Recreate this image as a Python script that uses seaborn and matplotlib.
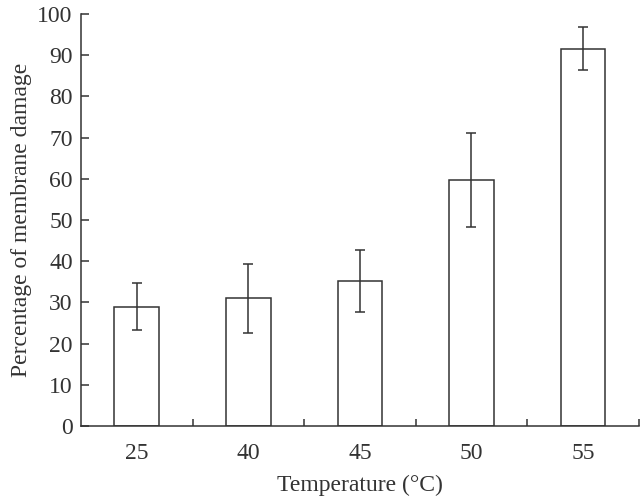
import numpy as np
import pandas as pd
import matplotlib
matplotlib.use("Agg")
import matplotlib.pyplot as plt
import seaborn as sns

# data
temperatures = ["25", "40", "45", "50", "55"]
damage_mean = [29.0, 31.0, 35.1, 59.7, 91.6]
damage_err = [5.8, 8.4, 7.5, 11.4, 5.2]

sns.set_style("ticks")
plt.rcParams["font.family"] = ["Liberation Serif", "DejaVu Serif"]

ink = "#333333"
fs = 17

df = pd.DataFrame({"Temperature": temperatures, "Damage": damage_mean})

fig = plt.figure(figsize=(6.4, 4.98), dpi=100)
ax = fig.add_axes([0.1266, 0.1446, 0.8714, 0.8273])

sns.barplot(data=df, x="Temperature", y="Damage", order=temperatures,
            color="white", edgecolor=ink, linewidth=1.1, width=0.4,
            errorbar=None, ax=ax)

# error bars on the categorical positions seaborn used
xpos = np.arange(len(temperatures))
ax.errorbar(xpos, damage_mean, yerr=damage_err, fmt="none",
            ecolor=ink, elinewidth=1.1, capsize=3.4, capthick=1.1)

ax.set_xlim(-0.5, len(temperatures) - 0.5)
ax.set_ylim(0, 100)
ax.set_yticks(range(0, 101, 10))

# labels at the centres, small inward ticks at the category boundaries
ax.set_xticks(xpos)
ax.set_xticklabels(temperatures)
ax.tick_params(axis="x", which="major", length=0, pad=12, labelsize=fs, colors=ink)
ax.set_xticks(np.arange(len(temperatures)) + 0.5, minor=True)
ax.tick_params(axis="x", which="minor", direction="in", length=5, width=1.1, color=ink)
ax.tick_params(axis="y", direction="in", length=6, width=1.1, pad=6,
               labelsize=fs, colors=ink)

ax.set_xlabel("Temperature (°C)", fontsize=fs, color=ink, labelpad=8)
ax.set_ylabel("Percentage of membrane damage", fontsize=fs, color=ink, labelpad=4)

for side in ["top", "right"]:
    ax.spines[side].set_visible(False)
for side in ["left", "bottom"]:
    ax.spines[side].set_color(ink)
    ax.spines[side].set_linewidth(1.1)

fig.savefig("out.png", dpi=100)
